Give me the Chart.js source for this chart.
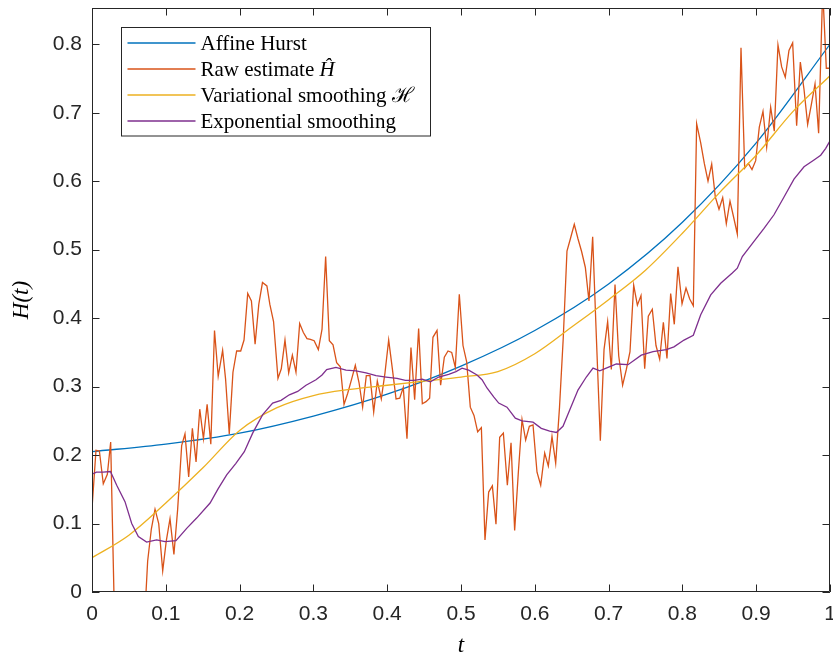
<!DOCTYPE html>
<html>
<head>
<meta charset="utf-8">
<script src="https://cdn.jsdelivr.net/npm/chart.js@4.4.1/dist/chart.umd.min.js"></script>
<style>
  html, body { margin: 0; padding: 0; background: #fff; }
  canvas { display: block; }
</style>
</head>
<body>
<canvas id="hurstChart" width="833" height="657"></canvas>
<script>
// tick values and labels
const xTicks = [0, 0.1, 0.2, 0.3, 0.4, 0.5, 0.6, 0.7, 0.8, 0.9, 1];
const xTickLabels = ["0", "0.1", "0.2", "0.3", "0.4", "0.5", "0.6", "0.7", "0.8", "0.9", "1"];
const yTicks = [0, 0.1, 0.2, 0.3, 0.4, 0.5, 0.6, 0.7, 0.8];
const yTickLabels = ["0", "0.1", "0.2", "0.3", "0.4", "0.5", "0.6", "0.7", "0.8"];

// affine Hurst function
const affineT = [0, 0.1, 0.2, 0.3, 0.4, 0.5, 0.6, 0.7, 0.8, 0.9, 1];
const affineH = [0.205, 0.216, 0.232, 0.257, 0.289, 0.330, 0.382, 0.450, 0.540, 0.656, 0.800];

// raw estimate
const rawT = [
  0, 0.0054, 0.010, 0.0153, 0.0208, 0.0253, 0.0303, 0.0353, 0.0403, 0.0453,
  0.0503, 0.0553, 0.0603, 0.0653, 0.0703, 0.0754, 0.0804, 0.0854, 0.0904, 0.0958,
  0.1007, 0.1057, 0.111, 0.116, 0.1215, 0.126, 0.131, 0.136, 0.141, 0.146,
  0.151, 0.156, 0.161, 0.166, 0.171, 0.177, 0.181, 0.186, 0.191, 0.196,
  0.2015, 0.206, 0.211, 0.216, 0.221, 0.226, 0.231, 0.237, 0.241, 0.246,
  0.252, 0.2565, 0.2615, 0.2665, 0.2715, 0.2764, 0.2814, 0.2864, 0.2913, 0.296,
  0.301, 0.3067, 0.3117, 0.3166, 0.3216, 0.3266, 0.3315, 0.3365, 0.3415, 0.3464,
  0.3518, 0.3568, 0.3618, 0.3667, 0.3717, 0.3767, 0.3817, 0.3866, 0.392, 0.397,
  0.402, 0.407, 0.412, 0.417, 0.4218, 0.4268, 0.4322, 0.4372, 0.4426, 0.4476,
  0.4526, 0.4575, 0.462, 0.4675, 0.4724, 0.4774, 0.4824, 0.4874, 0.4923, 0.4977,
  0.5027, 0.5077, 0.5126, 0.5176, 0.5226, 0.5276, 0.5325, 0.5375, 0.5425, 0.5474,
  0.5524, 0.5574, 0.5628, 0.5678, 0.5727, 0.5777, 0.5827, 0.5876, 0.5926, 0.5976,
  0.603, 0.608, 0.6134, 0.6183, 0.6233, 0.6283, 0.6335, 0.6385, 0.6436, 0.6485,
  0.6535, 0.6585, 0.6635, 0.6685, 0.6734, 0.6784, 0.6835, 0.6888, 0.6938, 0.6987,
  0.7037, 0.7087, 0.7137, 0.719, 0.724, 0.729, 0.734, 0.739, 0.7439, 0.7489,
  0.7538, 0.7592, 0.7642, 0.7692, 0.7742, 0.7791, 0.7841, 0.789, 0.794, 0.7995,
  0.8049, 0.8099, 0.8148, 0.8193, 0.8248, 0.8297, 0.8347, 0.8397, 0.8446, 0.8496,
  0.8546, 0.8595, 0.8645, 0.8695, 0.8744, 0.8794, 0.8844, 0.8893, 0.8943, 0.8993,
  0.9042, 0.9092, 0.9142, 0.9196, 0.9245, 0.9295, 0.9345, 0.9394, 0.9444, 0.9494,
  0.9548, 0.9598, 0.9648, 0.9697, 0.9747, 0.9797, 0.9846, 0.9901, 0.995, 1.0
];
const rawH = [
  0.122, 0.207, 0.206, 0.158, 0.172, 0.219, -0.03, -0.12, -0.08, -0.15,
  -0.10, -0.18, -0.09, -0.12, -0.06, 0.045, 0.092, 0.121, 0.100, 0.031,
  0.075, 0.107, 0.055, 0.120, 0.214, 0.231, 0.168, 0.239, 0.190, 0.267,
  0.224, 0.274, 0.216, 0.382, 0.315, 0.353, 0.311, 0.231, 0.321, 0.352,
  0.352, 0.368, 0.436, 0.425, 0.362, 0.420, 0.452, 0.447, 0.420, 0.395,
  0.312, 0.326, 0.368, 0.320, 0.346, 0.321, 0.392, 0.379, 0.370, 0.369,
  0.367, 0.354, 0.384, 0.490, 0.367, 0.361, 0.335, 0.329, 0.274, 0.290,
  0.311, 0.331, 0.306, 0.270, 0.316, 0.316, 0.263, 0.308, 0.282, 0.320,
  0.368, 0.326, 0.282, 0.283, 0.299, 0.224, 0.357, 0.281, 0.385, 0.275,
  0.278, 0.283, 0.372, 0.382, 0.302, 0.343, 0.352, 0.350, 0.328, 0.435,
  0.360, 0.336, 0.270, 0.258, 0.234, 0.240, 0.076, 0.146, 0.155, 0.099,
  0.226, 0.232, 0.156, 0.218, 0.090, 0.175, 0.252, 0.222, 0.242, 0.244,
  0.175, 0.156, 0.203, 0.184, 0.227, 0.188, 0.270, 0.370, 0.498, 0.517,
  0.537, 0.516, 0.497, 0.474, 0.425, 0.519, 0.370, 0.221, 0.354, 0.395,
  0.325, 0.449, 0.345, 0.302, 0.325, 0.351, 0.448, 0.419, 0.433, 0.326,
  0.403, 0.413, 0.360, 0.340, 0.394, 0.341, 0.436, 0.391, 0.475, 0.421,
  0.444, 0.428, 0.418, 0.684, 0.656, 0.626, 0.600, 0.625, 0.577, 0.559,
  0.576, 0.538, 0.571, 0.547, 0.523, 0.795, 0.619, 0.626, 0.617, 0.630,
  0.679, 0.702, 0.650, 0.708, 0.673, 0.799, 0.767, 0.752, 0.791, 0.802,
  0.681, 0.774, 0.734, 0.683, 0.712, 0.742, 0.670, 0.880, 0.765, 0.765
];

// variational smoothing
const varT = [0, 0.05, 0.1, 0.15, 0.2, 0.25, 0.3, 0.35, 0.4, 0.45, 0.5,
  0.55, 0.6, 0.65, 0.7, 0.75, 0.8, 0.85, 0.9, 0.95, 1];
const varH = [0.050, 0.083, 0.130, 0.181, 0.236, 0.269, 0.287, 0.296, 0.302, 0.308, 0.314,
  0.322, 0.348, 0.387, 0.427, 0.470, 0.524, 0.583, 0.638, 0.702, 0.754];

// exponential smoothing
const expT = [
  0, 0.006, 0.015, 0.025, 0.0335, 0.0447, 0.0538, 0.0628, 0.074, 0.0876,
  0.099, 0.1138, 0.1283, 0.1418, 0.16, 0.171, 0.1825, 0.195, 0.2064, 0.2177,
  0.2313, 0.2448, 0.2561, 0.2674, 0.2787, 0.29, 0.3035, 0.3117, 0.318, 0.3306,
  0.3442, 0.3577, 0.3713, 0.3848, 0.3984, 0.4133, 0.4246, 0.4359, 0.4475, 0.4585,
  0.4697, 0.4833, 0.4932, 0.5014, 0.5104, 0.5217, 0.5285, 0.5352, 0.5443, 0.5511,
  0.5623, 0.5736, 0.5827, 0.5976, 0.6088, 0.6202, 0.6292, 0.6382, 0.6473, 0.6585,
  0.6698, 0.6789, 0.688, 0.6992, 0.7105, 0.7263, 0.7443, 0.7602, 0.7782, 0.7886,
  0.8022, 0.8148, 0.8248, 0.8384, 0.8519, 0.8676, 0.8744, 0.8812, 0.897, 0.9106,
  0.9241, 0.9377, 0.9512, 0.9648, 0.9783, 0.9874, 0.9942, 1.0
];
const expH = [
  0.172, 0.175, 0.175, 0.176, 0.156, 0.132, 0.100, 0.081, 0.073, 0.076,
  0.0735, 0.075, 0.093, 0.108, 0.130, 0.151, 0.171, 0.188, 0.205, 0.232,
  0.259, 0.276, 0.280, 0.288, 0.293, 0.302, 0.310, 0.317, 0.325, 0.328,
  0.324, 0.323, 0.320, 0.316, 0.314, 0.312, 0.309, 0.309, 0.311, 0.307,
  0.314, 0.318, 0.322, 0.327, 0.324, 0.317, 0.310, 0.298, 0.285, 0.276,
  0.270, 0.254, 0.250, 0.248, 0.239, 0.235, 0.233, 0.242, 0.266, 0.295,
  0.314, 0.327, 0.323, 0.328, 0.333, 0.332, 0.346, 0.351, 0.354, 0.358,
  0.368, 0.375, 0.405, 0.434, 0.451, 0.466, 0.473, 0.490, 0.512, 0.531,
  0.551, 0.577, 0.603, 0.621, 0.631, 0.638, 0.648, 0.659
];

const toPoints = (ts, hs) => ts.map((t, i) => ({ x: t, y: hs[i] }));

const axisColor = "#262626";
const serif = "'Liberation Serif', 'DejaVu Serif', serif";
const sans = "'Liberation Sans', Arial, sans-serif";

// MATLAB-style box with inward ticks, plus the legend box
const framePlugin = {
  id: "frame",
  afterDatasetsDraw(chart) {
    const { ctx, chartArea: a, scales: { x, y } } = chart;
    const tick = 7.5;
    ctx.save();
    ctx.strokeStyle = axisColor;
    ctx.lineWidth = 1;
    ctx.beginPath();
    ctx.rect(a.left + 0.5, a.top + 0.5, a.right - a.left - 1, a.bottom - a.top - 1);
    xTicks.forEach(v => {
      const px = Math.round(x.getPixelForValue(v)) + 0.5;
      ctx.moveTo(px, a.bottom);
      ctx.lineTo(px, a.bottom - tick);
      ctx.moveTo(px, a.top);
      ctx.lineTo(px, a.top + tick);
    });
    yTicks.forEach(v => {
      const py = Math.round(y.getPixelForValue(v)) + 0.5;
      ctx.moveTo(a.left, py);
      ctx.lineTo(a.left + tick, py);
      ctx.moveTo(a.right, py);
      ctx.lineTo(a.right - tick, py);
    });
    ctx.stroke();

    // legend
    const lx = a.left + 29.5, ly = a.top + 19.5, lw = 309, lh = 108.5;
    ctx.fillStyle = "#fff";
    ctx.fillRect(lx, ly, lw, lh);
    ctx.strokeStyle = axisColor;
    ctx.lineWidth = 1;
    ctx.strokeRect(lx, ly, lw, lh);
    ctx.textBaseline = "middle";
    ctx.textAlign = "left";
    chart.data.datasets.forEach((ds, i) => {
      const rowY = ly + 15.5 + i * 26;
      ctx.strokeStyle = ds.borderColor;
      ctx.lineWidth = 1.3;
      ctx.beginPath();
      ctx.moveTo(lx + 6, rowY);
      ctx.lineTo(lx + 74, rowY);
      ctx.stroke();
      ctx.fillStyle = "#000";
      let text = ds.label;
      let tail = "";
      if (text.endsWith("Ĥ")) { tail = "Ĥ"; text = text.slice(0, -1); }
      ctx.font = "21px " + serif;
      ctx.fillText(text, lx + 79, rowY + 1);
      if (tail) {
        const w = ctx.measureText(text).width;
        ctx.font = "italic 21px " + serif;
        ctx.fillText(tail, lx + 79 + w, rowY + 1);
      }
    });
    ctx.restore();
  }
};

new Chart(document.getElementById("hurstChart"), {
  type: "line",
  data: {
    datasets: [
      { label: "Affine Hurst", data: toPoints(affineT, affineH), borderColor: "#0072BD",
        borderWidth: 1.3, pointRadius: 0, cubicInterpolationMode: "monotone", order: 3 },
      { label: "Raw estimate Ĥ", data: toPoints(rawT, rawH), borderColor: "#D95319",
        borderWidth: 1.3, pointRadius: 0, tension: 0, order: 2 },
      { label: "Variational smoothing ℋ", data: toPoints(varT, varH), borderColor: "#EDB120",
        borderWidth: 1.3, pointRadius: 0, cubicInterpolationMode: "monotone", order: 1 },
      { label: "Exponential smoothing", data: toPoints(expT, expH), borderColor: "#7E2F8E",
        borderWidth: 1.3, pointRadius: 0, tension: 0, order: 0 }
    ]
  },
  options: {
    responsive: false,
    animation: false,
    events: [],
    layout: { padding: { left: 0, right: 3, top: 8, bottom: 0 } },
    plugins: { legend: { display: false }, tooltip: { enabled: false } },
    scales: {
      x: {
        type: "linear",
        min: 0,
        max: 1,
        afterBuildTicks: s => { s.ticks = xTicks.map(v => ({ value: v })); },
        afterFit: s => { s.height = 65; s.paddingLeft = 0; s.paddingRight = 0; },
        ticks: {
          callback: (v, i) => xTickLabels[i],
          font: { family: sans, size: 21 },
          color: axisColor,
          padding: 10,
          maxRotation: 0,
          autoSkip: false
        },
        grid: { display: false, drawTicks: false },
        border: { display: false },
        title: {
          display: true,
          text: "t",
          color: "#000",
          font: { family: serif, size: 23, style: "italic", lineHeight: 1 },
          padding: { top: 0, bottom: 0 }
        }
      },
      y: {
        type: "linear",
        min: 0,
        max: 0.853,
        afterBuildTicks: s => { s.ticks = yTicks.map(v => ({ value: v })); },
        afterFit: s => { s.width = 92; s.paddingTop = 0; s.paddingBottom = 0; },
        ticks: {
          callback: (v, i) => yTickLabels[i],
          font: { family: sans, size: 21 },
          color: axisColor,
          padding: 10
        },
        grid: { display: false, drawTicks: false },
        border: { display: false },
        title: {
          display: true,
          text: "H(t)",
          color: "#000",
          font: { family: serif, size: 23, style: "italic" },
          padding: { top: 8, bottom: 0 }
        }
      }
    }
  },
  plugins: [framePlugin]
});
</script>
</body>
</html>
